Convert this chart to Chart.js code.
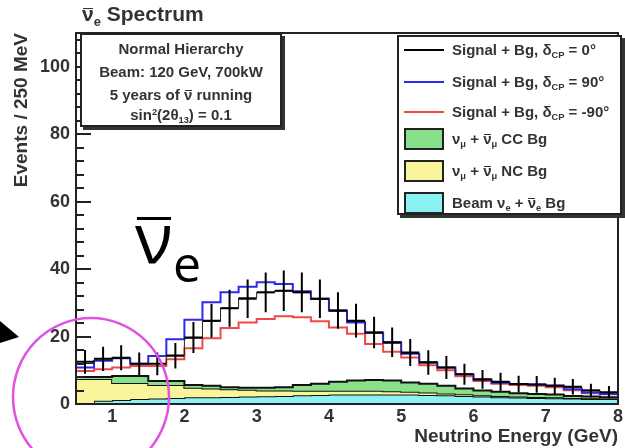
<!DOCTYPE html>
<html>
<head>
<meta charset="utf-8">
<script src="https://cdn.jsdelivr.net/npm/chart.js@4.4.1/dist/chart.umd.min.js"></script>
<style>
body { margin: 0; background: #fff; }
#wrap { position: relative; width: 625px; height: 448px; overflow: hidden; font-family: "Liberation Sans", Arial, sans-serif; color: #333; }
canvas { position: absolute; left: 0; top: 0; }
.ov { position: relative; }
.ov::after { content: ""; position: absolute; left: 0.05em; right: 0.05em; top: 0.27em; border-top: 0.08em solid currentColor; }
sub { font-size: 62%; vertical-align: -0.35em; line-height: 0; }
sup { font-size: 62%; vertical-align: 0.5em; line-height: 0; }
#title { position: absolute; left: 82px; top: 2px; font-size: 21px; font-weight: bold; }
#info { position: absolute; left: 80px; top: 33px; width: 198px; height: 90px; border: 2px solid #222; background: #fff; box-shadow: 3px 3px 0 #333; font-weight: bold; font-size: 15px; text-align: center; }
#info div { position: absolute; left: 0; width: 100%; height: 20px; line-height: 20px; }
#legend { position: absolute; left: 397px; top: 35px; width: 221px; height: 176px; border: 2px solid #222; background: #fff; box-shadow: 3px 3px 0 #333; font-weight: bold; font-size: 15px; }
#legend .row { position: absolute; left: 0; width: 100%; height: 22px; line-height: 22px; }
#legend .txt { position: absolute; left: 53px; top: 0; white-space: nowrap; }
#legend .ln { position: absolute; left: 5px; top: 10px; width: 40px; height: 2px; }
#legend .bx { position: absolute; left: 5px; top: 0; width: 36px; height: 18px; border: 2px solid #222; }
#bignu { position: absolute; left: 135px; top: 201px; font-family: "Open Sans", "Liberation Sans", sans-serif; font-size: 70px; color: #000; line-height: 1; white-space: nowrap; }
#bignu .ov::after { top: 29px; border-top-width: 3px; left: 2px; right: 2px; }
#bignu .e { font-size: 50px; vertical-align: -19px; }
</style>
</head>
<body>
<div id="wrap">
	<canvas id="chart" width="625" height="448"></canvas>
	<div id="title"><span class="ov">ν</span><sub>e</sub> Spectrum</div>
	<div id="info">
		<div style="top:4px">Normal Hierarchy</div>
		<div style="top:27px">Beam: 120 GeV, 700kW</div>
		<div style="top:50px">5 years of <span class="ov">ν</span> running</div>
		<div style="top:70px">sin<sup>2</sup>(2θ<sub>13</sub>) = 0.1</div>
	</div>
	<div id="legend">
		<div class="row" style="top:2px"><div class="ln" style="background:#000"></div><div class="txt">Signal + Bg, δ<sub>CP</sub> = 0°</div></div>
		<div class="row" style="top:34px"><div class="ln" style="background:#2a2af0"></div><div class="txt">Signal + Bg, δ<sub>CP</sub> = 90°</div></div>
		<div class="row" style="top:64px"><div class="ln" style="background:#f04848"></div><div class="txt">Signal + Bg, δ<sub>CP</sub> = -90°</div></div>
		<div class="row" style="top:91px"><div class="bx" style="background:#88e08a"></div><div class="txt">ν<sub>μ</sub> + <span class="ov">ν</span><sub>μ</sub> CC Bg</div></div>
		<div class="row" style="top:123px"><div class="bx" style="background:#faf59a"></div><div class="txt">ν<sub>μ</sub> + <span class="ov">ν</span><sub>μ</sub> NC Bg</div></div>
		<div class="row" style="top:155px"><div class="bx" style="background:#8af2f2"></div><div class="txt">Beam ν<sub>e</sub> + <span class="ov">ν</span><sub>e</sub> Bg</div></div>
	</div>
	<div id="bignu"><span class="ov">ν</span><span class="e">e</span></div>
</div>
<script>
// Bin edges in GeV (250 MeV bins)
const energyEdges = [0.5, 0.75, 1, 1.25, 1.5, 1.75, 2, 2.25, 2.5, 2.75, 3, 3.25, 3.5, 3.75, 4, 4.25,
	4.5, 4.75, 5, 5.25, 5.5, 5.75, 6, 6.25, 6.5, 6.75, 7, 7.25, 7.5, 7.75, 8];
const xTicks = [1, 2, 3, 4, 5, 6, 7, 8];
const yTicks = [0, 20, 40, 60, 80, 100];

// Fake data points with error bars
const dataEvents = [12.5, 13.4, 13.7, 11.9, 11.9, 14.3, 19.7, 24.7, 28.4, 31.2, 33.1, 33.6, 33.1, 31.2, 27.7,
	24.7, 21.2, 18.3, 15.3, 12.3, 10.8, 8.8, 7.3, 6.6, 5.9, 5.8, 5.4, 5.1, 4.0, 3.5];
const dataErrors = [3.5, 3.6, 3.7, 3.4, 3.4, 3.8, 4.6, 5.0, 5.5, 5.7, 5.9, 6.0, 5.9, 5.7, 5.4,
	5.0, 4.7, 4.4, 4.0, 3.6, 3.4, 3.1, 2.8, 2.7, 2.5, 2.5, 2.4, 2.3, 2.0, 1.8];

// Signal + background predictions
const signal0 = [12.0, 13.0, 13.5, 12.0, 12.0, 14.5, 19.5, 24.5, 28.5, 31.5, 33.0, 33.5, 33.0, 31.0, 27.5,
	24.5, 21.0, 18.0, 15.0, 12.5, 10.8, 8.8, 7.4, 6.5, 6.0, 5.8, 5.4, 5.0, 4.1, 3.4];
const signal90 = [10.8, 12.8, 13.6, 11.9, 14.2, 19.2, 25.0, 30.2, 33.1, 34.8, 36.1, 35.6, 33.4, 31.2, 27.7,
	24.2, 21.2, 18.3, 14.9, 12.3, 10.8, 8.8, 7.3, 6.3, 5.9, 5.8, 5.5, 4.4, 3.4, 3.0];
const signalM90 = [9.8, 10.3, 10.8, 11.3, 11.3, 13.3, 16.5, 19.5, 22.5, 24.2, 25.2, 26.0, 25.7, 24.5, 22.7,
	20.8, 17.8, 15.5, 13.8, 11.5, 10.0, 8.2, 6.8, 6.0, 5.6, 5.4, 5.0, 4.1, 3.2, 2.9];

// Backgrounds (stacked: beam nue, NC, CC)
const beamBg = [0.3, 1.0, 1.2, 1.5, 1.6, 1.8, 2.0, 2.0, 2.1, 2.2, 2.3, 2.4, 2.6, 2.7, 2.8,
	2.8, 2.8, 2.8, 2.8, 2.7, 2.6, 2.4, 2.2, 2.0, 1.9, 1.8, 1.7, 1.6, 1.5, 1.5];
const ncBg = [7.1, 6.4, 5.0, 4.7, 4.0, 3.8, 2.8, 2.6, 2.3, 2.0, 1.7, 1.6, 1.3, 1.2, 1.1,
	1.1, 1.1, 1.0, 0.8, 0.7, 0.5, 0.5, 0.4, 0.4, 0.3, 0.3, 0.3, 0.2, 0.2, 0.1];
const ccBg = [0.6, 0.6, 2.1, 2.1, 1.2, 1.2, 0.8, 0.8, 0.6, 0.6, 0.8, 1.0, 1.7, 2.1, 2.7,
	3.1, 3.2, 3.2, 2.8, 2.6, 2.3, 1.7, 1.4, 1.2, 1.0, 0.9, 0.8, 0.6, 0.5, 0.4];

// histogram -> points at bin edges (last edge repeats last bin)
function histPoints(vals) {
	return energyEdges.map((e, i) => ({ x: e, y: vals[Math.min(i, vals.length - 1)] }));
}

const ncTop = beamBg.map((v, i) => v + ncBg[i]);
const ccTop = ncTop.map((v, i) => v + ccBg[i]);

const crossH = [];
const crossV = [];
dataEvents.forEach((v, i) => {
	const lo = energyEdges[i];
	const hi = energyEdges[i + 1];
	const mid = (lo + hi) / 2;
	crossH.push({ x: lo, y: v }, { x: hi, y: v }, { x: hi, y: null });
	crossV.push({ x: mid, y: v - dataErrors[i] }, { x: mid, y: v + dataErrors[i] }, { x: mid, y: null });
});

const axisFont = { family: "'Liberation Sans', Arial, sans-serif", size: 18, weight: "bold" };
const titleFont = { family: "'Liberation Sans', Arial, sans-serif", size: 19, weight: "bold" };

// ROOT style frame, inward y ticks, and the hand drawn annotations
const decorations = {
	id: "decorations",
	afterDatasetsDraw(chart) {
		const { ctx, chartArea: a, scales: { y } } = chart;
		ctx.save();
		ctx.strokeStyle = "#222";
		ctx.lineWidth = 2;
		ctx.strokeRect(a.left, a.top, a.right - a.left, a.bottom - a.top);
		ctx.beginPath();
		for (let v = 0; v <= 108; v += 4) {
			const py = Math.round(y.getPixelForValue(v));
			const len = v % 20 === 0 ? 15 : 8;
			ctx.moveTo(a.left, py);
			ctx.lineTo(a.left + len, py);
		}
		ctx.stroke();
		ctx.restore();
	},
	afterDraw(chart) {
		const ctx = chart.ctx;
		ctx.save();
		ctx.strokeStyle = "#e052e0";
		ctx.lineWidth = 2.5;
		ctx.beginPath();
		ctx.ellipse(91, 397, 78, 79, 0, 0, Math.PI * 2);
		ctx.stroke();
		ctx.fillStyle = "#000";
		ctx.beginPath();
		ctx.moveTo(0, 321);
		ctx.lineTo(19, 337);
		ctx.lineTo(0, 343);
		ctx.closePath();
		ctx.fill();
		ctx.restore();
	},
};

new Chart(document.getElementById("chart"), {
	type: "line",
	data: {
		datasets: [
			{ label: "Beam nue + nuebar Bg", data: histPoints(beamBg), stepped: true, borderColor: "#111", borderWidth: 2, backgroundColor: "#8af2f2", fill: "origin", order: 6 },
			{ label: "numu + numubar NC Bg", data: histPoints(ncTop), stepped: true, borderColor: "#111", borderWidth: 2, backgroundColor: "#faf59a", fill: "-1", order: 5 },
			{ label: "numu + numubar CC Bg", data: histPoints(ccTop), stepped: true, borderColor: "#111", borderWidth: 2, backgroundColor: "#88e08a", fill: "-1", order: 4 },
			{ label: "Signal + Bg, dCP = -90", data: histPoints(signalM90), stepped: true, borderColor: "#f04848", borderWidth: 2, fill: false, order: 3 },
			{ label: "Signal + Bg, dCP = 90", data: histPoints(signal90), stepped: true, borderColor: "#2a2af0", borderWidth: 2, fill: false, order: 2 },
			{ label: "Signal + Bg, dCP = 0", data: histPoints(signal0), stepped: true, borderColor: "#222", borderWidth: 1, fill: false, order: 1 },
			{ label: "data x", data: crossH, borderColor: "#000", borderWidth: 2, fill: false, spanGaps: false, order: 0 },
			{ label: "data y", data: crossV, borderColor: "#000", borderWidth: 2, fill: false, spanGaps: false, order: 0 },
		],
	},
	options: {
		responsive: false,
		animation: false,
		layout: { padding: { top: 33, right: 3, left: 0, bottom: 0 } },
		elements: { point: { radius: 0 }, line: { tension: 0 } },
		plugins: { legend: { display: false }, tooltip: { enabled: false } },
		scales: {
			x: {
				type: "linear",
				min: 0.5,
				max: 8,
				afterBuildTicks: (s) => { s.ticks = xTicks.map((v) => ({ value: v })); },
				afterFit: (s) => { s.height = 44; },
				grid: { display: false, drawTicks: false },
				border: { display: false },
				ticks: { padding: 2, maxRotation: 0, font: axisFont, color: "#333" },
				title: { display: true, text: "Neutrino Energy (GeV)", align: "end", font: titleFont, color: "#333", padding: 0 },
			},
			y: {
				min: 0,
				max: 110,
				afterBuildTicks: (s) => { s.ticks = yTicks.map((v) => ({ value: v })); },
				afterFit: (s) => { s.width = 76; },
				grid: { display: false, drawTicks: false },
				border: { display: false },
				ticks: { padding: 6, font: axisFont, color: "#333" },
				title: { display: true, text: "Events / 250 MeV", align: "end", font: titleFont, color: "#333", padding: { top: 10 } },
			},
		},
	},
	plugins: [decorations],
});
</script>
</body>
</html>
